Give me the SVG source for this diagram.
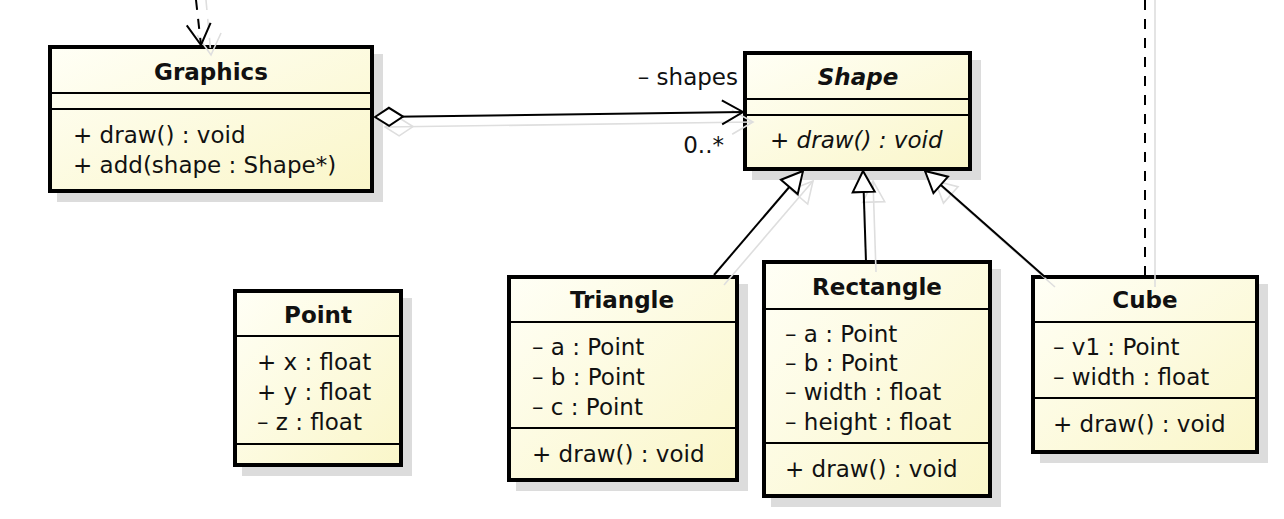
<svg xmlns="http://www.w3.org/2000/svg" width="1284" height="519" viewBox="0 0 1284 519">
<style>
text{font-family:"DejaVu Sans","Liberation Sans",sans-serif;font-size:23px;fill:#111}
.title{font-weight:bold;text-anchor:middle}
.box{fill:url(#fill);stroke:#000;stroke-width:4}
.shadowbox{fill:#dcdcdc}
.sep{stroke:#000;stroke-width:2}
.conn{fill:none;stroke:#000;stroke-width:2}
.dash{stroke-dasharray:10 9}
.sconn{fill:none;stroke:#dedede;stroke-width:1.6}
</style>
<defs>
<linearGradient id="fill" x1="0" y1="0" x2="1" y2="1">
<stop offset="0" stop-color="#fffff6"/>
<stop offset="1" stop-color="#faf6c9"/>
</linearGradient>
<marker id="open" markerUnits="userSpaceOnUse" markerWidth="26" markerHeight="28" viewBox="-2 -14 26 28" refX="21" refY="0" orient="auto" overflow="visible">
<path d="M0,-12 L21,0 L0,12" fill="none" stroke="#000" stroke-width="2"/>
</marker>
<marker id="tri" markerUnits="userSpaceOnUse" markerWidth="26" markerHeight="28" viewBox="-2 -14 26 28" refX="21" refY="0" orient="auto" overflow="visible">
<path d="M0,-11 L21,0 L0,11 Z" fill="#fff" stroke="#000" stroke-width="2"/>
</marker>
<marker id="diamond" markerUnits="userSpaceOnUse" markerWidth="32" markerHeight="24" viewBox="-2 -12 32 24" refX="0" refY="0" orient="auto" overflow="visible">
<path d="M0,0 L14,-9 L28,0 L14,9 Z" fill="#fff" stroke="#000" stroke-width="2"/>
</marker>
<marker id="sopen" markerUnits="userSpaceOnUse" markerWidth="26" markerHeight="28" viewBox="-2 -14 26 28" refX="21" refY="0" orient="auto" overflow="visible">
<path d="M0,-12 L21,0 L0,12" fill="none" stroke="#dedede" stroke-width="1.6"/>
</marker>
<marker id="stri" markerUnits="userSpaceOnUse" markerWidth="26" markerHeight="28" viewBox="-2 -14 26 28" refX="21" refY="0" orient="auto" overflow="visible">
<path d="M0,-11 L21,0 L0,11 Z" fill="none" stroke="#dedede" stroke-width="1.6"/>
</marker>
<marker id="sdiamond" markerUnits="userSpaceOnUse" markerWidth="32" markerHeight="24" viewBox="-2 -12 32 24" refX="0" refY="0" orient="auto" overflow="visible">
<path d="M0,0 L14,-9 L28,0 L14,9 Z" fill="none" stroke="#dedede" stroke-width="1.6"/>
</marker>
</defs>
<rect width="1284" height="519" fill="#fff"/>

<g id="box-shadows">
<rect class="shadowbox" x="57" y="54" width="326" height="148"/>
<rect class="shadowbox" x="752" y="60" width="229" height="120"/>
<rect class="shadowbox" x="242" y="298" width="170" height="178"/>
<rect class="shadowbox" x="516" y="284" width="232" height="207"/>
<rect class="shadowbox" x="771" y="269" width="230" height="238"/>
<rect class="shadowbox" x="1040" y="284" width="228" height="179"/>
</g>

<g id="Graphics">
<rect class="box" x="50" y="47" width="322" height="144"/>
<line class="sep" x1="50" y1="93" x2="372" y2="93"/>
<line class="sep" x1="50" y1="109" x2="372" y2="109"/>
<text class="title" x="211" y="80">Graphics</text>
<text x="73" y="143">+ draw() : void</text>
<text x="73" y="173">+ add(shape : Shape*)</text>
</g>

<g id="Shape">
<rect class="box" x="745" y="53" width="225" height="116"/>
<line class="sep" x1="745" y1="99" x2="970" y2="99"/>
<line class="sep" x1="745" y1="115" x2="970" y2="115"/>
<text class="title" x="858" y="85" font-style="italic">Shape</text>
<text x="770" y="148" font-style="italic">+ draw() : void</text>
</g>

<g id="Point">
<rect class="box" x="235" y="291" width="166" height="174"/>
<line class="sep" x1="235" y1="336" x2="401" y2="336"/>
<line class="sep" x1="235" y1="444" x2="401" y2="444"/>
<text class="title" x="318" y="323">Point</text>
<text x="257" y="370">+ x : float</text>
<text x="257" y="400">+ y : float</text>
<text x="257" y="430">– z : float</text>
</g>

<g id="Triangle">
<rect class="box" x="509" y="277" width="228" height="203"/>
<line class="sep" x1="509" y1="322" x2="737" y2="322"/>
<line class="sep" x1="509" y1="428" x2="737" y2="428"/>
<text class="title" x="622" y="308">Triangle</text>
<text x="532" y="355">– a : Point</text>
<text x="532" y="385">– b : Point</text>
<text x="532" y="415">– c : Point</text>
<text x="532" y="462">+ draw() : void</text>
</g>

<g id="Rectangle">
<rect class="box" x="764" y="262" width="226" height="234"/>
<line class="sep" x1="764" y1="309" x2="990" y2="309"/>
<line class="sep" x1="764" y1="443" x2="990" y2="443"/>
<text class="title" x="877" y="295">Rectangle</text>
<text x="785" y="342">– a : Point</text>
<text x="785" y="371">– b : Point</text>
<text x="785" y="400">– width : float</text>
<text x="785" y="430">– height : float</text>
<text x="785" y="477">+ draw() : void</text>
</g>

<g id="Cube">
<rect class="box" x="1033" y="277" width="224" height="175"/>
<line class="sep" x1="1033" y1="322" x2="1257" y2="322"/>
<line class="sep" x1="1033" y1="398" x2="1257" y2="398"/>
<text class="title" x="1145" y="308">Cube</text>
<text x="1053" y="355">– v1 : Point</text>
<text x="1053" y="385">– width : float</text>
<text x="1053" y="432">+ draw() : void</text>
</g>

<g id="connector-shadows">
<path class="sconn dash" d="M206,0 L211,55" marker-end="url(#sopen)"/>
<path class="sconn" d="M385,127 L753,122" marker-start="url(#sdiamond)" marker-end="url(#sopen)"/>
<path class="sconn" d="M724,285 L813,181" marker-end="url(#stri)"/>
<path class="sconn" d="M876,272 L873,181" marker-end="url(#stri)"/>
<path class="sconn" d="M1055,287 L935,181" marker-end="url(#stri)"/>
<path class="sconn" d="M1155,0 L1155,287" stroke-width="1.4"/>
</g>

<g id="connectors">
<path class="conn dash" d="M196,0 L201,45" marker-end="url(#open)"/>
<path class="conn" d="M375,117 L743,112" marker-start="url(#diamond)" marker-end="url(#open)"/>
<path class="conn" d="M714,275 L803,171" marker-end="url(#tri)"/>
<path class="conn" d="M866,262 L863,171" marker-end="url(#tri)"/>
<path class="conn" d="M1045,277 L925,171" marker-end="url(#tri)"/>
<path class="conn dash" d="M1145,0 L1145,275"/>
<text x="738" y="85" text-anchor="end">– shapes</text>
<text x="724" y="153" text-anchor="end">0..*</text>
</g>
</svg>
